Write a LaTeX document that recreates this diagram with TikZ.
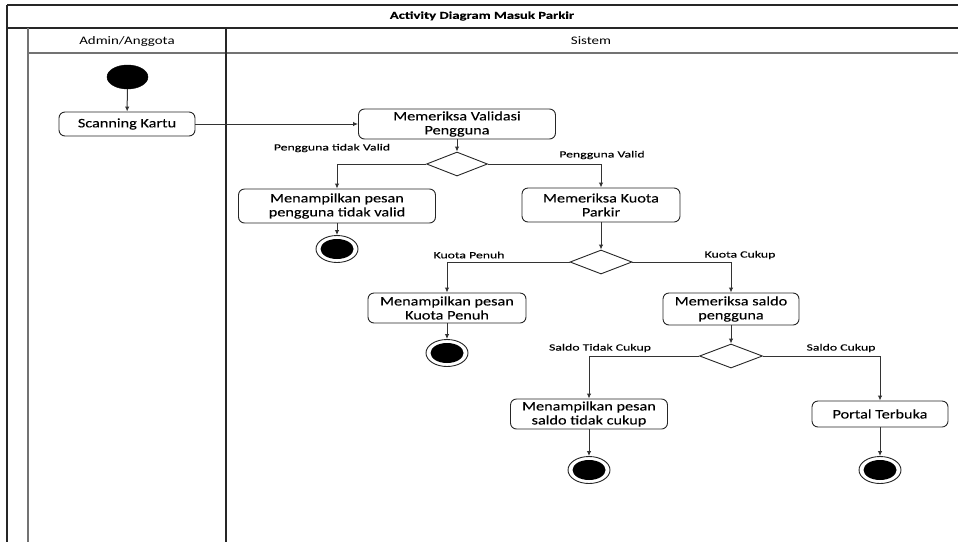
\documentclass[tikz,border=0pt]{standalone}
\usepackage{fontspec}
\setmainfont{Carlito}
\newfontfamily\nodefont[FakeStretch=1.25,FakeBold=0.12]{Carlito}
\newfontfamily\labelfont[FakeStretch=1.45,FakeBold=0.15]{Carlito}
\newfontfamily\headfont[FakeStretch=1.3]{Carlito}
\newfontfamily\titlefont[FakeStretch=1.4,BoldFeatures={FakeBold=0.3}]{Carlito}
\usetikzlibrary{shapes.geometric,arrows.meta}

\tikzset{
  lane/.style={line width=1.1pt, draw=black!85},
  laneinner/.style={line width=1.1pt, draw=black!55},
  act/.style={draw=black!85, line width=0.9pt, rounded corners=6pt, fill=white,
    align=center, inner sep=0pt, font=\nodefont\fontsize{13}{14}\selectfont},
  decision/.style={diamond, draw=black!85, line width=0.9pt, fill=white, inner sep=0pt},
  startnode/.style={ellipse, fill=black, draw=black, inner sep=0pt,
    minimum width=41pt, minimum height=24pt},
  endouter/.style={ellipse, draw=black!85, line width=0.9pt, fill=white, inner sep=0pt,
    minimum width=42pt, minimum height=27pt},
  guard/.style={font=\labelfont\fontsize{9.5}{11}\selectfont, inner sep=0pt},
  flow/.style={draw=black!80, line width=1pt, -{Latex[length=5pt,width=4.5pt]}},
  lanehead/.style={font=\headfont\fontsize{11.5}{13}\selectfont, inner sep=0pt}
}

% final state: white ring with a black disc inside
\newcommand{\finalstate}[2]{%
  \node[endouter] (#1) at (#2) {};
  \fill[black] (#2) ellipse [x radius=16.5pt, y radius=10pt];
}

\begin{document}
\begin{tikzpicture}[x=1pt, y=-1pt]
\useasboundingbox (0,0) rectangle (958,542);

% pool frame and swimlanes
\draw[lane] (7,5) -- (958,5);
\draw[lane] (7,5) -- (7,542);
\draw[lane] (7,28) -- (958,28);
\draw[laneinner] (28,28) -- (28,542);
\draw[laneinner] (28,53) -- (958,53);
\draw[lane] (226,28) -- (226,542);

\node[font=\titlefont\bfseries\fontsize{10.5}{12}\selectfont, inner sep=0pt] (title) at (482,16) {Activity Diagram Masuk Parkir};
\node[lanehead] (laneA) at (127,41) {Admin/Anggota};
\node[lanehead] (laneS) at (591,41) {Sistem};

% activities
\node[startnode] (init) at (127.5,77) {};
\node[act, minimum width=136pt, minimum height=24pt] (scan) at (127,124) {Scanning Kartu};
\node[act, minimum width=197pt, minimum height=30pt] (val) at (457,124) {Memeriksa Validasi\\Pengguna};
\node[decision, minimum width=61pt, minimum height=24pt] (d1) at (457,164) {};
\node[act, minimum width=197pt, minimum height=34pt] (errU) at (337,206) {Menampilkan pesan\\pengguna tidak valid};
\finalstate{f1}{337,249}
\node[act, minimum width=158pt, minimum height=34pt] (kuota) at (601,205) {Memeriksa Kuota\\Parkir};
\node[decision, minimum width=62pt, minimum height=24pt] (d2) at (601,262) {};
\node[act, minimum width=158pt, minimum height=30pt] (errK) at (447,308) {Menampilkan pesan\\Kuota Penuh};
\finalstate{f2}{447,353}
\node[act, minimum width=136pt, minimum height=32pt] (saldo) at (731,309) {Memeriksa saldo\\pengguna};
\node[decision, minimum width=63pt, minimum height=24pt] (d3) at (731,356) {};
\node[act, minimum width=157pt, minimum height=30pt] (errS) at (589,414) {Menampilkan pesan\\saldo tidak cukup};
\finalstate{f3}{589,470}
\node[act, minimum width=136pt, minimum height=26pt] (portal) at (880,414) {Portal Terbuka};
\finalstate{f4}{880,470}

% guard labels
\node[guard] (g1) at (332,148) {Pengguna tidak Valid};
\node[guard] (g2) at (602,155) {Pengguna Valid};
\node[guard] (g3) at (469,255) {Kuota Penuh};
\node[guard] (g4) at (740,255) {Kuota Cukup};
\node[guard] (g5) at (600,348) {Saldo Tidak Cukup};
\node[guard] (g6) at (841,348) {Saldo Cukup};

% control flow
\draw[flow] (init) -- (scan);
\draw[flow] (scan) -- (val);
\draw[flow] (val) -- (d1);
\draw[flow] (d1.west) -| (errU.north);
\draw[flow] (d1.east) -| (kuota.north);
\draw[flow] (errU) -- (f1);
\draw[flow] (kuota) -- (d2);
\draw[flow] (d2.west) -| (errK.north);
\draw[flow] (d2.east) -| (saldo.north);
\draw[flow] (errK) -- (f2);
\draw[flow] (saldo) -- (d3);
\draw[flow] (d3.west) -| (errS.north);
\draw[flow] (d3.east) -| (portal.north);
\draw[flow] (errS) -- (f3);
\draw[flow] (portal) -- (f4);
\end{tikzpicture}
\end{document}
